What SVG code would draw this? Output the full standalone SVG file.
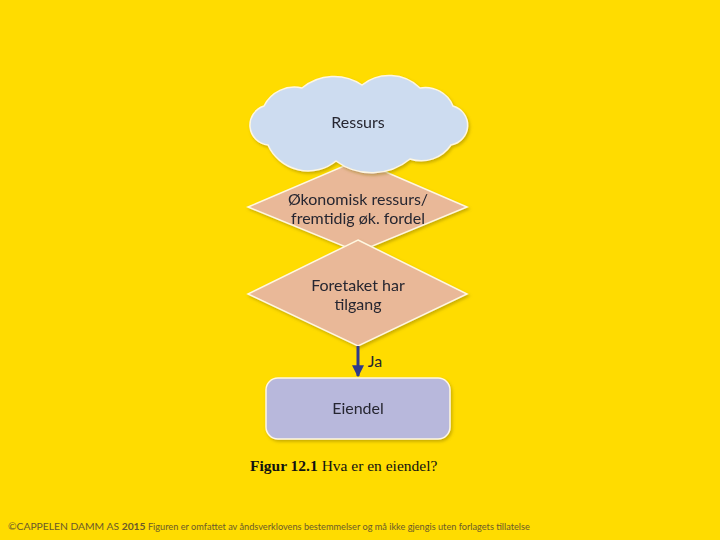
<svg xmlns="http://www.w3.org/2000/svg" width="720" height="540" viewBox="0 0 720 540">
<style>
.lbl{font-family:Lato,"Open Sans","Liberation Sans",sans-serif;font-size:16px;fill:#262630;text-anchor:middle}
.shape{stroke:#fff7e0;stroke-width:1.5}
.cap{font-family:"Liberation Serif","DejaVu Serif",serif;font-size:15.5px;fill:#111}
.foot{font-family:Lato,"Liberation Sans",sans-serif;font-size:9.2px;fill:#6b5a2a}
</style>
<defs>
<filter id="sh" x="-10%" y="-10%" width="130%" height="130%">
<feDropShadow dx="1.5" dy="2" stdDeviation="1.5" flood-color="#8a7400" flood-opacity="0.45"/>
</filter>
<marker id="ah" viewBox="0 0 10 10" refX="9" refY="5" markerWidth="4" markerHeight="4" orient="auto">
<path d="M0,0 L10,5 L0,10 Z" fill="#2e3a8c"/>
</marker>
</defs>
<rect width="720" height="540" fill="#ffdc00"/>
<g id="d1" filter="url(#sh)">
<polygon class="shape" points="358,160 467,207 358,252 248,207" fill="#e9b898"/>
<text class="lbl" x="358" y="205">Økonomisk ressurs/</text>
<text class="lbl" x="358" y="224">fremtidig øk. fordel</text>
</g>
<g id="cloud" filter="url(#sh)">
<path class="shape" fill="#cddcf0" d="M268,145 A20,20 0 0 1 264,106 A34,34 0 0 1 302,88 A50,50 0 0 1 362,85 A44,44 0 0 1 420,88 A30,30 0 0 1 453,106 A20,20 0 0 1 451,145 A36,36 0 0 1 410,159 A60,60 0 0 1 336,161 A44,44 0 0 1 268,145 Z"/>
<text class="lbl" x="358" y="128">Ressurs</text>
</g>
<g id="d2" filter="url(#sh)">
<polygon class="shape" points="358,240 467,294 358,346 248,294" fill="#e9b898"/>
<text class="lbl" x="358" y="291">Foretaket har</text>
<text class="lbl" x="358" y="310">tilgang</text>
</g>
<g id="eiendel" filter="url(#sh)">
<rect class="shape" x="266" y="378" width="184" height="61" rx="12" fill="#b8b8dc"/>
<text class="lbl" x="358" y="414">Eiendel</text>
</g>
<g id="connectors">
<line x1="358" y1="346" x2="358" y2="376" stroke="#2e3a8c" stroke-width="3" marker-end="url(#ah)"/>
<text class="lbl" x="375" y="367">Ja</text>
</g>
<text class="cap" x="250" y="471"><tspan font-weight="bold">Figur 12.1</tspan> Hva er en eiendel?</text>
<text class="foot" x="8" y="530"><tspan font-size="10.3">©CAPPELEN DAMM AS <tspan font-weight="bold">2015</tspan></tspan> Figuren er omfattet av åndsverklovens bestemmelser og må ikke gjengis uten forlagets tillatelse</text>
</svg>
